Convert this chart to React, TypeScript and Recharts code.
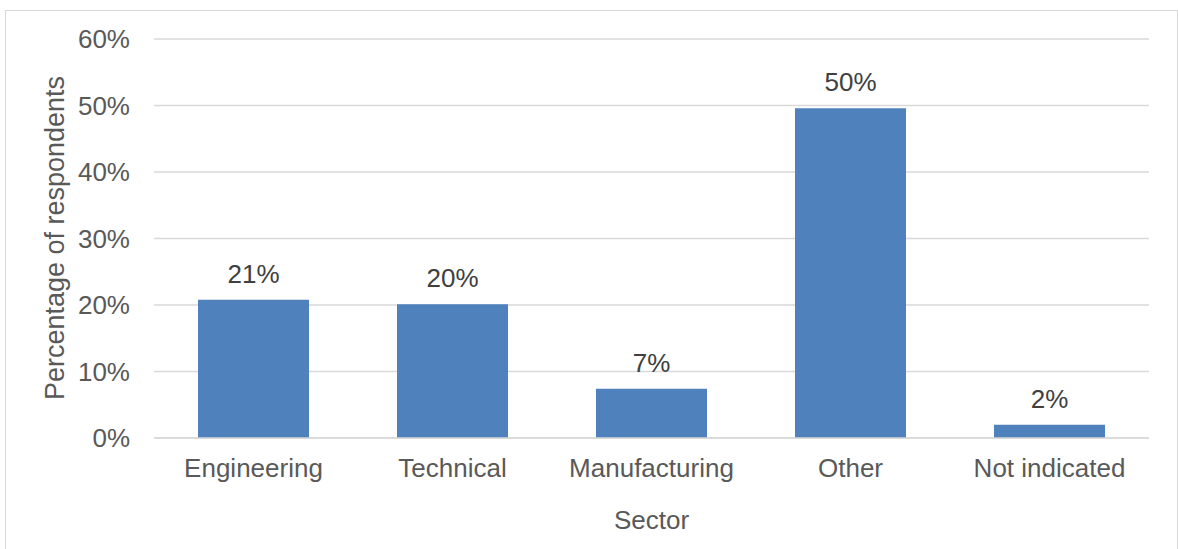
import { Bar, BarChart, CartesianGrid, LabelList, XAxis, YAxis } from "recharts";

const sectors = ["Engineering", "Technical", "Manufacturing", "Other", "Not indicated"];
const shares = [20.8, 20.1, 7.4, 49.6, 2.0];
const yTicks = [0, 10, 20, 30, 40, 50, 60];

const data = sectors.map((sector, i) => ({ sector, share: shares[i] }));

const FONT = '"Liberation Sans", Arial, sans-serif';
const AXIS_TEXT = "#595959";
const GRID = "#d9d9d9";
const FS = 26;

export default function App() {
  return (
    <div
      style={{
        position: "absolute",
        left: 0,
        top: 0,
        width: 1178,
        height: 549,
        background: "#fff",
        overflow: "hidden",
        fontFamily: FONT,
      }}
    >
      <div
        style={{
          position: "absolute",
          left: 5,
          top: 10,
          width: 1171,
          height: 600,
          border: `1px solid ${GRID}`,
        }}
      />
      <div style={{ position: "absolute", left: 0, top: 0 }}>
        <BarChart
          width={1178}
          height={549}
          data={data}
          margin={{ top: 39, right: 29, left: 0, bottom: 0 }}
        >
          <CartesianGrid vertical={false} stroke={GRID} strokeWidth={1.3} />
          <XAxis
            dataKey="sector"
            height={111}
            axisLine={{ stroke: GRID, strokeWidth: 1.3 }}
            tickLine={false}
            tickSize={0}
            tickMargin={21}
            tick={{ fill: AXIS_TEXT, fontSize: FS, fontFamily: FONT }}
            label={{
              content: () => (
                <text x={651.5} y={529} textAnchor="middle" fill={AXIS_TEXT} fontSize={FS} fontFamily={FONT}>
                  Sector
                </text>
              ),
            }}
          />
          <YAxis
            width={154}
            domain={[0, 60]}
            ticks={yTicks}
            axisLine={false}
            tickLine={false}
            tickSize={0}
            tickMargin={24}
            tickFormatter={(v: number) => `${v}%`}
            tick={{ fill: AXIS_TEXT, fontSize: FS, fontFamily: FONT }}
            label={{
              content: () => (
                <text
                  x={55}
                  y={238}
                  textAnchor="middle"
                  dominantBaseline="central"
                  transform="rotate(-90, 55, 238)"
                  fill={AXIS_TEXT}
                  fontSize={27}
                  fontFamily={FONT}
                >
                  Percentage of respondents
                </text>
              ),
            }}
          />
          <Bar dataKey="share" fill="#4f81bd" barSize={111} isAnimationActive={false}>
            <LabelList
              dataKey="share"
              position="top"
              offset={17}
              formatter={(v: any) => `${Math.round(Number(v))}%`}
              style={{ fill: "#404040", fontSize: FS, fontFamily: FONT }}
            />
          </Bar>
        </BarChart>
      </div>
    </div>
  );
}
